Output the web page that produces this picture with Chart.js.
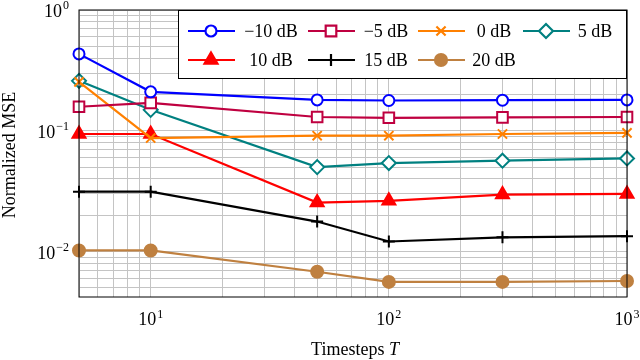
<!DOCTYPE html>
<html>
<head>
<meta charset="utf-8">
<script src="https://cdn.jsdelivr.net/npm/chart.js@4.4.0/dist/chart.umd.min.js"></script>
<style>
  html, body { margin: 0; padding: 0; background: #fff; }
  #wrap { width: 640px; height: 360px; }
</style>
</head>
<body>
<div id="wrap"><canvas id="mseChart" width="640" height="360"></canvas></div>
<script>
// values
const timesteps = [5, 10, 50, 100, 300, 1000];
const snrLabels = ['\u221210 dB', '\u22125 dB', '0 dB', '5 dB', '10 dB', '15 dB', '20 dB'];
const mseM10 = [0.433, 0.21, 0.18, 0.178, 0.179, 0.18];
const mseM5 = [0.158, 0.17, 0.13, 0.128, 0.129, 0.13];
const mse0 = [0.254, 0.087, 0.091, 0.091, 0.094, 0.096];
const mse5 = [0.259, 0.149, 0.050, 0.054, 0.0565, 0.059];
const mse10 = [0.094, 0.094, 0.0254, 0.0263, 0.0296, 0.030];
const mse15 = [0.0313, 0.0313, 0.0177, 0.0121, 0.0131, 0.0134];
const mse20 = [0.0102, 0.0102, 0.0068, 0.0056, 0.0056, 0.0057];
const xTickLabels = [{ v: 10, e: '1' }, { v: 100, e: '2' }, { v: 1000, e: '3' }];
const yTickLabels = [{ v: 1, e: '0' }, { v: 0.1, e: '\u22121' }, { v: 0.01, e: '\u22122' }];

const series = [mseM10, mseM5, mse0, mse5, mse10, mse15, mse20];
const colors = ['#0000ff', '#bf0040', '#ff8000', '#008080', '#ff0000', '#000000', '#bf8040'];
const markers = ['circle', 'rect', 'crossRot', 'rectRot', 'triangle', 'cross', 'circle'];
const radii = [5.5, 7.5, 6.5, 7, 7.5, 6, 6];
const fills = ['#ffffff', '#ffffff', '#ff8000', '#ffffff', '#ff0000', '#000000', '#bf8040'];

// grid positions (1..9 x 10^k)
function logGrid(lo, hi) {
  const out = [];
  for (let e = -3; e <= 3; e++) {
    for (let m = 1; m <= 9; m++) {
      const v = +(m * Math.pow(10, e)).toPrecision(3);
      if (v >= lo - 1e-12 && v <= hi + 1e-12) out.push({ value: v });
    }
  }
  return out;
}

const SERIF = '"Liberation Serif", "DejaVu Serif", serif';

const labelPlugin = {
  id: 'labels',
  afterDraw(chart) {
    const ctx = chart.ctx;
    const a = chart.chartArea;
    const xs = chart.scales.x, ys = chart.scales.y;
    ctx.save();
    // frame
    ctx.strokeStyle = '#000';
    ctx.lineWidth = 1;
    ctx.strokeRect(a.left, a.top, a.right - a.left, a.bottom - a.top);

    ctx.fillStyle = '#000';
    ctx.textBaseline = 'alphabetic';
    // y tick labels
    yTickLabels.forEach(t => {
      const py = ys.getPixelForValue(t.v);
      ctx.font = '12px ' + SERIF;
      const w2 = ctx.measureText(t.e).width;
      ctx.textAlign = 'left';
      ctx.fillText(t.e, 69 - w2, py - 1);
      ctx.font = '18px ' + SERIF;
      ctx.textAlign = 'right';
      ctx.fillText('10', 68 - w2, py + 7);
    });
    // x tick labels
    xTickLabels.forEach(t => {
      const px = xs.getPixelForValue(t.v);
      ctx.font = '18px ' + SERIF;
      const w1 = ctx.measureText('10').width;
      ctx.font = '12px ' + SERIF;
      const w2 = ctx.measureText(t.e).width;
      const x0 = px - (w1 + w2 + 1) / 2;
      ctx.textAlign = 'left';
      ctx.font = '18px ' + SERIF;
      ctx.fillText('10', x0, 325);
      ctx.font = '12px ' + SERIF;
      ctx.fillText(t.e, x0 + w1 + 1, 318);
    });
    // axis titles
    ctx.font = '18px ' + SERIF;
    const w1 = ctx.measureText('Timesteps ').width;
    ctx.font = 'italic 18px ' + SERIF;
    const w2 = ctx.measureText('T').width;
    const tx = (a.left + a.right) / 2 - (w1 + w2) / 2 + 2;
    ctx.textAlign = 'left';
    ctx.font = '18px ' + SERIF;
    ctx.fillText('Timesteps ', tx, 355);
    ctx.font = 'italic 18px ' + SERIF;
    ctx.fillText('T', tx + w1, 355);

    ctx.save();
    ctx.translate(15, 155);
    ctx.rotate(-Math.PI / 2);
    ctx.textAlign = 'center';
    ctx.font = '18px ' + SERIF;
    ctx.fillText('Normalized MSE', 0, 0);
    ctx.restore();

    // legend box
    const box = { l: 178, t: 10, r: a.right, b: 79 };
    ctx.fillStyle = '#fff';
    ctx.fillRect(box.l, box.t, box.r - box.l, box.b - box.t);
    ctx.strokeStyle = '#000';
    ctx.strokeRect(box.l + 0.5, box.t + 0.5, box.r - box.l - 1, box.b - box.t - 1);
    const colStart = [188, 308, 418, 523];
    const colText = [271, 386, 494, 595];
    const rowY = [31, 60];
    chart.data.datasets.forEach((ds, i) => {
      const c = i % 4, r = Math.floor(i / 4);
      const x0 = colStart[c], y = rowY[r];
      ctx.strokeStyle = ds.borderColor;
      ctx.lineWidth = 2.2;
      ctx.beginPath();
      ctx.moveTo(x0, y);
      ctx.lineTo(x0 + 47, y);
      ctx.stroke();
      ctx.fillStyle = ds.pointBackgroundColor;
      ctx.strokeStyle = ds.borderColor;
      Chart.helpers.drawPoint(ctx, {
        pointStyle: ds.pointStyle, radius: ds.pointRadius,
        borderWidth: 2, rotation: 0
      }, x0 + 23, y);
      ctx.fillStyle = '#000';
      ctx.textAlign = 'center';
      ctx.font = '18px ' + SERIF;
      ctx.fillText(ds.label, colText[c], y + 6);
    });
    ctx.restore();
  }
};

const ctx = document.getElementById('mseChart').getContext('2d');

const mseChart = new Chart(ctx, {
  type: 'line',
  data: {
    datasets: series.map((vals, i) => ({
      label: snrLabels[i],
      data: timesteps.map((t, j) => ({ x: t, y: vals[j] })),
      borderColor: colors[i],
      backgroundColor: colors[i],
      pointBackgroundColor: fills[i],
      pointBorderColor: colors[i],
      pointStyle: markers[i],
      pointRadius: radii[i],
      pointBorderWidth: 2,
      borderWidth: 2.2,
      tension: 0,
      clip: false
    }))
  },
  options: {
    responsive: false,
    animation: false,
    devicePixelRatio: 1,
    layout: { padding: { left: 79, top: 10, right: 13, bottom: 63 } },
    plugins: {
      legend: { display: false },
      tooltip: { enabled: false }
    },
    scales: {
      x: {
        type: 'logarithmic',
        min: 5,
        max: 1000,
        afterBuildTicks: s => { s.ticks = logGrid(5, 1000); },
        ticks: { display: false },
        grid: { color: '#c4c4c4', drawTicks: false, lineWidth: 1 },
        border: { display: false }
      },
      y: {
        type: 'logarithmic',
        min: 0.0042,
        max: 1,
        afterBuildTicks: s => { s.ticks = logGrid(0.0042, 1); },
        ticks: { display: false },
        grid: { color: '#c4c4c4', drawTicks: false, lineWidth: 1 },
        border: { display: false }
      }
    }
  },
  plugins: [labelPlugin]
});
</script>
</body>
</html>
